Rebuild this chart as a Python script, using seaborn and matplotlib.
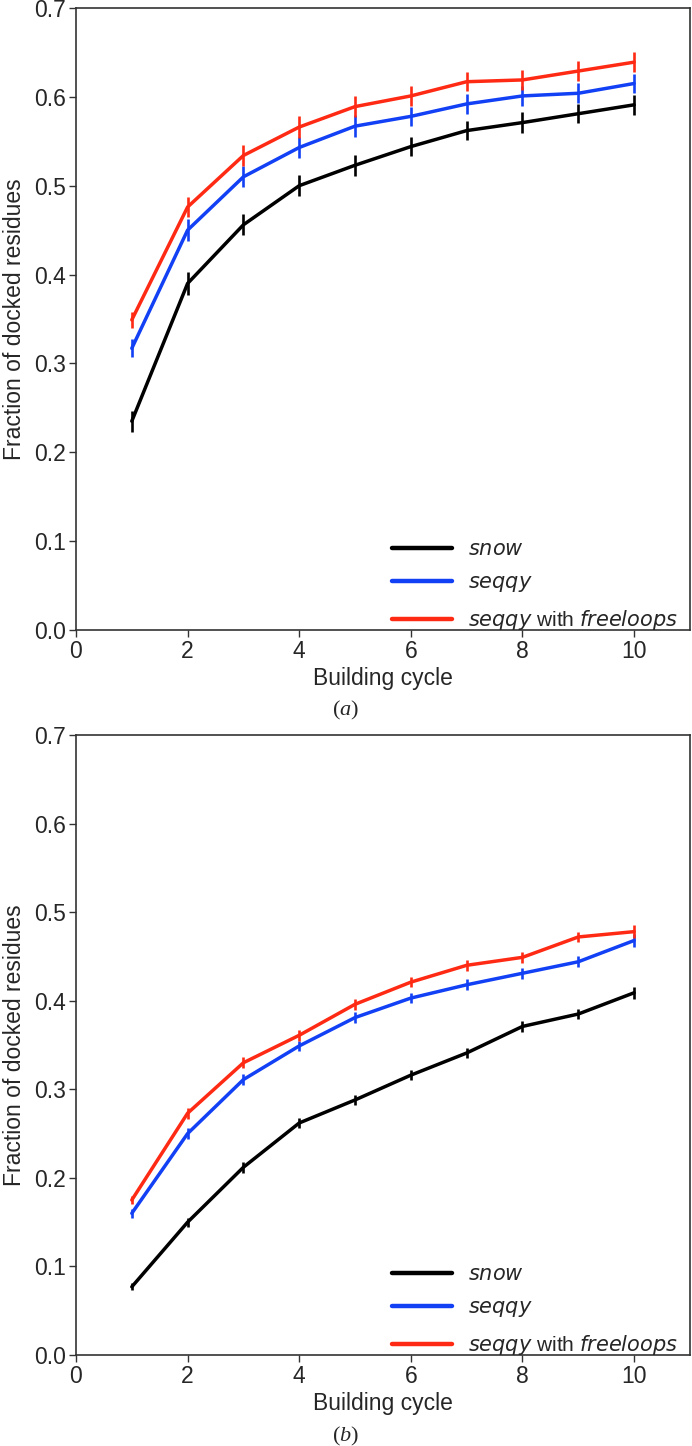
import matplotlib
matplotlib.use("Agg")
import matplotlib.pyplot as plt
import numpy as np
import pandas as pd
import seaborn as sns

cycles = [1, 2, 3, 4, 5, 6, 7, 8, 9, 10]
series_names = ["snow", "seqqy", "seqqy with freeloops"]

# panel (a)
a_snow = [0.235, 0.390, 0.456, 0.500, 0.523, 0.544, 0.562, 0.571, 0.581, 0.591]
a_seqqy = [0.317, 0.450, 0.510, 0.543, 0.567, 0.578, 0.592, 0.601, 0.604, 0.615]
a_free = [0.349, 0.476, 0.534, 0.566, 0.589, 0.601, 0.617, 0.619, 0.629, 0.639]
a_snow_err = [0.012, 0.013, 0.012, 0.012, 0.012, 0.011, 0.011, 0.012, 0.011, 0.011]
a_seqqy_err = [0.010, 0.012, 0.012, 0.012, 0.012, 0.011, 0.011, 0.011, 0.011, 0.011]
a_free_err = [0.009, 0.011, 0.012, 0.012, 0.012, 0.011, 0.011, 0.011, 0.011, 0.011]

# panel (b)
b_snow = [0.077, 0.150, 0.212, 0.262, 0.288, 0.316, 0.341, 0.371, 0.385, 0.409]
b_seqqy = [0.160, 0.250, 0.311, 0.349, 0.381, 0.403, 0.418, 0.431, 0.444, 0.468]
b_free = [0.175, 0.273, 0.330, 0.361, 0.396, 0.421, 0.440, 0.449, 0.472, 0.478]
b_snow_err = [0.004, 0.005, 0.006, 0.006, 0.006, 0.006, 0.006, 0.006, 0.006, 0.007]
b_seqqy_err = [0.005, 0.006, 0.006, 0.006, 0.006, 0.006, 0.006, 0.006, 0.006, 0.007]
b_free_err = [0.005, 0.006, 0.006, 0.006, 0.006, 0.006, 0.006, 0.006, 0.006, 0.007]

colors = {"snow": "black", "seqqy": "#1240f5", "seqqy with freeloops": "#ff2a14"}
legend_labels = [r"$\mathit{snow}$", r"$\mathit{seqqy}$",
                 r"$\mathit{seqqy}$ with $\mathit{freeloops}$"]

sns.set_style("ticks")
plt.rcParams["font.family"] = ["Liberation Sans Narrow", "Liberation Sans", "DejaVu Sans"]
plt.rcParams["mathtext.fontset"] = "custom"
plt.rcParams["mathtext.rm"] = "Liberation Sans Narrow"
plt.rcParams["mathtext.it"] = "Liberation Sans Narrow:italic"
plt.rcParams["mathtext.cal"] = "Liberation Serif:italic"

FS = 16.5

fig = plt.figure(figsize=(6.92, 14.46), dpi=100)
ax_a = fig.add_axes([0.1098, 0.5643, 0.8872, 0.4302])
ax_b = fig.add_axes([0.1098, 0.0629, 0.8872, 0.4288])

panels = [
    (ax_a, [a_snow, a_seqqy, a_free], [a_snow_err, a_seqqy_err, a_free_err], "a", 0.509),
    (ax_b, [b_snow, b_seqqy, b_free], [b_snow_err, b_seqqy_err, b_free_err], "b", 0.0065),
]

for ax, vals, errs, tag, cap_y in panels:
    df = pd.DataFrame({
        "cycle": cycles * 3,
        "frac": vals[0] + vals[1] + vals[2],
        "method": sum([[n] * len(cycles) for n in series_names], []),
    })
    sns.lineplot(data=df, x="cycle", y="frac", hue="method", palette=colors,
                 linewidth=2.5, ax=ax, legend=False)
    for name, v, e in zip(series_names, vals, errs):
        ax.errorbar(cycles, v, yerr=e, fmt="none", ecolor=colors[name],
                    elinewidth=1.9, capsize=0, zorder=3)

    ax.set_xlim(0, 11)
    ax.set_ylim(0, 0.7)
    ax.set_xticks([0, 2, 4, 6, 8, 10])
    ax.set_yticks(np.arange(0, 0.71, 0.1))
    ax.set_yticklabels([f"{t:.1f}" for t in np.arange(0, 0.71, 0.1)])
    ax.tick_params(labelsize=FS, length=5, width=1, color="#333333", pad=2)
    for s in ax.spines.values():
        s.set_color("#333333")
        s.set_linewidth(1.2)
    ax.set_xlabel("Building cycle", fontsize=FS, labelpad=3)
    ax.set_ylabel("Fraction of docked residues", fontsize=FS, labelpad=6)

    handles = [plt.Line2D([], [], color=colors[n], lw=3.2) for n in series_names]
    ax.legend(handles, legend_labels, loc="lower right", frameon=False,
              fontsize=15, handlelength=2.9, handletextpad=0.75,
              labelspacing=0.66, borderaxespad=0.0, borderpad=0.3,
              bbox_to_anchor=(0.99, -0.013))

    fig.text(0.5, cap_y, r"($\mathcal{" + tag + "}$)", ha="center", va="center",
             fontsize=16, family="Liberation Serif")

fig.savefig("out.png", dpi=100)
